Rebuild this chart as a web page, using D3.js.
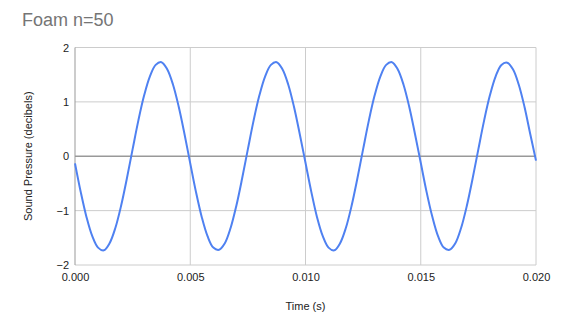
<!DOCTYPE html>
<html>
<head>
<meta charset="utf-8">
<script src="https://cdn.jsdelivr.net/npm/d3@7"></script>
<style>
  body { margin: 0; background: #fff; }
  text { font-family: "Liberation Sans", Arial, sans-serif; }
</style>
</head>
<body>
<script>
const w = 564;
const h = 332;

// time samples (s), every 0.25 ms
const times = d3.range(0, 81).map(i => +(i * 0.00025).toFixed(5));

// sound pressure
const pressure = [
  -0.13, -0.66, -1.12, -1.47, -1.68, -1.73, -1.60, -1.32, -0.91, -0.41,
   0.13,  0.66,  1.12,  1.47,  1.68,  1.73,  1.60,  1.32,  0.91,  0.41,
  -0.13, -0.66, -1.12, -1.47, -1.68, -1.72, -1.60, -1.32, -0.91, -0.41,
   0.13,  0.66,  1.12,  1.47,  1.68,  1.73,  1.60,  1.32,  0.91,  0.41,
  -0.12, -0.65, -1.12, -1.47, -1.68, -1.73, -1.60, -1.32, -0.91, -0.41,
   0.13,  0.66,  1.12,  1.47,  1.68,  1.73,  1.60,  1.32,  0.91,  0.41,
  -0.12, -0.65, -1.11, -1.47, -1.68, -1.72, -1.60, -1.32, -0.91, -0.41,
   0.13,  0.66,  1.12,  1.47,  1.68,  1.72,  1.60,  1.32,  0.91,  0.41,
  -0.08
];

const xTicks = [0, 0.005, 0.01, 0.015, 0.02];
const yTicks = [-2, -1, 0, 1, 2];

const data = times.map((t, i) => ({ t, p: pressure[i] }));

const plotLeft = 75, plotRight = 536, plotTop = 47.5, plotBottom = 265;

const svg = d3.select("body")
              .append("svg")
              .attr("width", w)
              .attr("height", h)
              .style("background-color", "#fff");

const xScale = d3.scaleLinear().domain([0, 0.02]).range([plotLeft, plotRight]);
const yScale = d3.scaleLinear().domain([-2, 2]).range([plotBottom, plotTop]);

// gridlines
svg.append("g")
   .selectAll("line")
   .data(yTicks.filter(d => d !== 0))
   .enter()
   .append("line")
   .attr("x1", plotLeft)
   .attr("x2", plotRight)
   .attr("y1", d => yScale(d))
   .attr("y2", d => yScale(d))
   .attr("stroke", "#cccccc")
   .attr("stroke-width", 1);

svg.append("g")
   .selectAll("line")
   .data(xTicks.filter(d => d !== 0))
   .enter()
   .append("line")
   .attr("x1", d => xScale(d))
   .attr("x2", d => xScale(d))
   .attr("y1", plotTop)
   .attr("y2", plotBottom)
   .attr("stroke", "#cccccc")
   .attr("stroke-width", 1);

// left axis line
svg.append("line")
   .attr("x1", plotLeft).attr("x2", plotLeft)
   .attr("y1", plotTop).attr("y2", plotBottom)
   .attr("stroke", "#999999")
   .attr("stroke-width", 1);

// zero line
svg.append("line")
   .attr("x1", plotLeft).attr("x2", plotRight)
   .attr("y1", yScale(0)).attr("y2", yScale(0))
   .attr("stroke", "#999999")
   .attr("stroke-width", 1.5);

// axes (text only)
const xAxis = d3.axisBottom(xScale)
                .tickValues(xTicks)
                .tickFormat(d3.format(".3f"))
                .tickSize(0);
const yAxis = d3.axisLeft(yScale)
                .tickValues(yTicks)
                .tickFormat(d3.format("d"))
                .tickSize(0);

const gx = svg.append("g")
   .attr("transform", `translate(0, ${plotBottom})`)
   .call(xAxis);
gx.select(".domain").remove();
gx.selectAll("text")
  .attr("dy", 0)
  .attr("y", 16)
  .attr("fill", "#222")
  .style("font-size", "11px")
  .style("font-family", "'Liberation Sans', Arial, sans-serif");

const gy = svg.append("g")
   .attr("transform", `translate(${plotLeft}, 0)`)
   .call(yAxis);
gy.select(".domain").remove();
gy.selectAll("text")
  .attr("x", -6)
  .attr("dy", "0.32em")
  .attr("fill", "#222")
  .style("font-size", "11px")
  .style("font-family", "'Liberation Sans', Arial, sans-serif");

// the wave
const line = d3.line()
               .x(d => xScale(d.t))
               .y(d => yScale(d.p))
               .curve(d3.curveCatmullRom);

svg.append("path")
   .datum(data)
   .attr("d", line)
   .attr("fill", "none")
   .attr("stroke", "#4f81f1")
   .attr("stroke-width", 2);

// title
svg.append("text")
   .text("Foam n=50")
   .attr("x", 22)
   .attr("y", 26)
   .attr("fill", "#757575")
   .attr("font-size", "18px");

// axis titles
svg.append("text")
   .text("Time (s)")
   .attr("x", (plotLeft + plotRight) / 2)
   .attr("y", 310)
   .attr("text-anchor", "middle")
   .attr("fill", "#222")
   .attr("font-size", "11px");

svg.append("text")
   .text("Sound Pressure (decibels)")
   .attr("transform", `translate(32, ${(plotTop + plotBottom) / 2}) rotate(-90)`)
   .attr("text-anchor", "middle")
   .attr("fill", "#222")
   .attr("font-size", "11px");
</script>
</body>
</html>
